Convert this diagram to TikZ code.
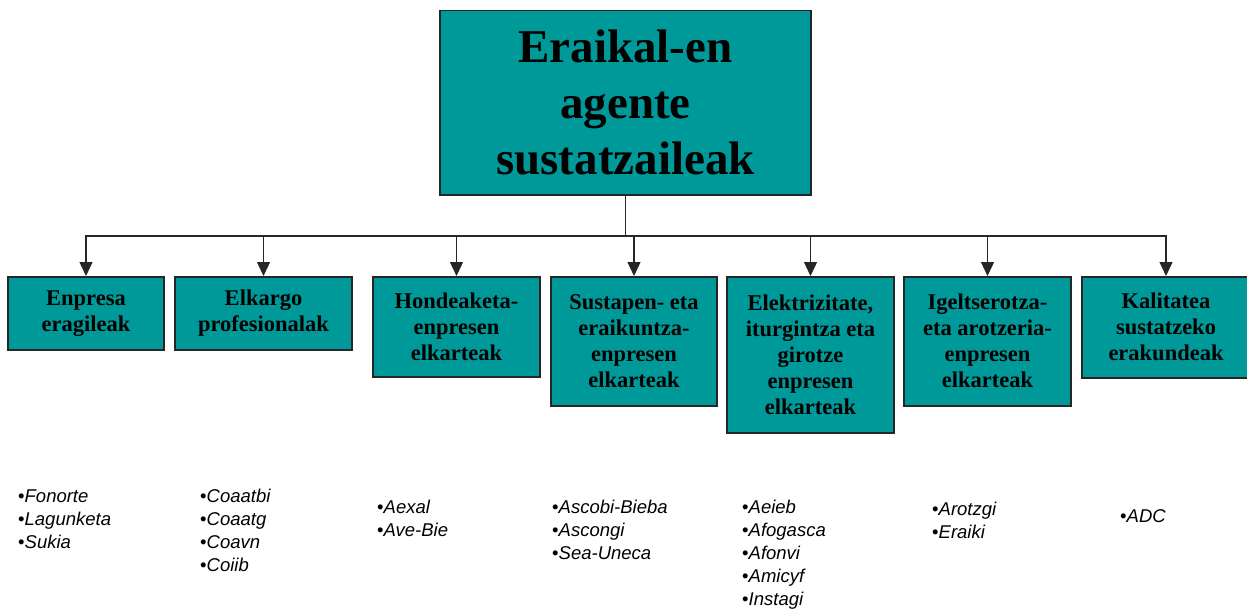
\documentclass[tikz,border=0pt]{standalone}
\usepackage{fontspec}
\setmainfont{Liberation Serif}
\setsansfont{Liberation Sans}
\usetikzlibrary{arrows.meta}
\definecolor{tealbox}{RGB}{0,153,153}
\begin{document}
\begin{tikzpicture}[x=1pt,y=-1pt,
  box/.style={draw=black!85,line width=1.5pt,fill=tealbox,anchor=north,align=center,inner sep=0pt,
    font=\fontsize{22.5}{26}\selectfont\bfseries},
  titlebox/.style={box,font=\fontsize{47}{56}\selectfont\bfseries},
  conn/.style={draw=black!85,line width=1.3pt},
  arr/.style={conn,-{Triangle[width=13pt,length=14pt]}},
  list/.style={anchor=north west,inner sep=0pt,align=left,font=\sffamily\fontsize{18.5}{23}\selectfont}
]
\useasboundingbox (0,0) rectangle (1247,610);

\node[titlebox,minimum width=371pt,minimum height=184pt] (main) at (625.5,10)
  {Eraikal-en\\agente\\sustatzaileak};

\node[box,minimum width=156pt,minimum height=73pt] (b1) at (86,276) {Enpresa\\eragileak};
\node[box,minimum width=177pt,minimum height=73pt] (b2) at (263.5,276) {Elkargo\\profesionalak};
\node[box,minimum width=167pt,minimum height=100pt] (b3) at (456.5,276) {Hondeaketa-\\enpresen\\elkarteak};
\node[box,minimum width=166pt,minimum height=129pt] (b4) at (634,276) {Sustapen- eta\\eraikuntza-\\enpresen\\elkarteak};
\node[box,minimum width=167pt,minimum height=156pt] (b5) at (810.5,276) {Elektrizitate,\\iturgintza eta\\girotze\\enpresen\\elkarteak};
\node[box,minimum width=167pt,minimum height=129pt] (b6) at (987.5,276) {Igeltserotza-\\eta arotzeria-\\enpresen\\elkarteak};
\node[box,minimum width=168pt,minimum height=101pt] (b7) at (1166,276) {Kalitatea\\sustatzeko\\erakundeak};

\coordinate (bus) at (625.5,236);
\draw[conn] (main.south) -- (bus);
\foreach \n in {b1,b2,b3,b4,b5,b6,b7}
  \draw[arr] (bus) -| (\n.north);

\node[list] (l1) at (18,489.3) {•\textit{Fonorte}\\•\textit{Lagunketa}\\•\textit{Sukia}};
\node[list] (l2) at (200,488.6) {•\textit{Coaatbi}\\•\textit{Coaatg}\\•\textit{Coavn}\\•\textit{Coiib}};
\node[list] (l3) at (377,499.6) {•\textit{Aexal}\\•\textit{Ave-Bie}};
\node[list] (l4) at (552,499.6) {•\textit{Ascobi-Bieba}\\•\textit{Ascongi}\\•\textit{Sea-Uneca}};
\node[list] (l5) at (742,499.6) {•\textit{Aeieb}\\•\textit{Afogasca}\\•\textit{Afonvi}\\•\textit{Amicyf}\\•\textit{Instagi}};
\node[list] (l6) at (932,501.6) {•\textit{Arotzgi}\\•\textit{Eraiki}};
\node[list] (l7) at (1120,509.6) {•\textit{ADC}};
\end{tikzpicture}
\end{document}
